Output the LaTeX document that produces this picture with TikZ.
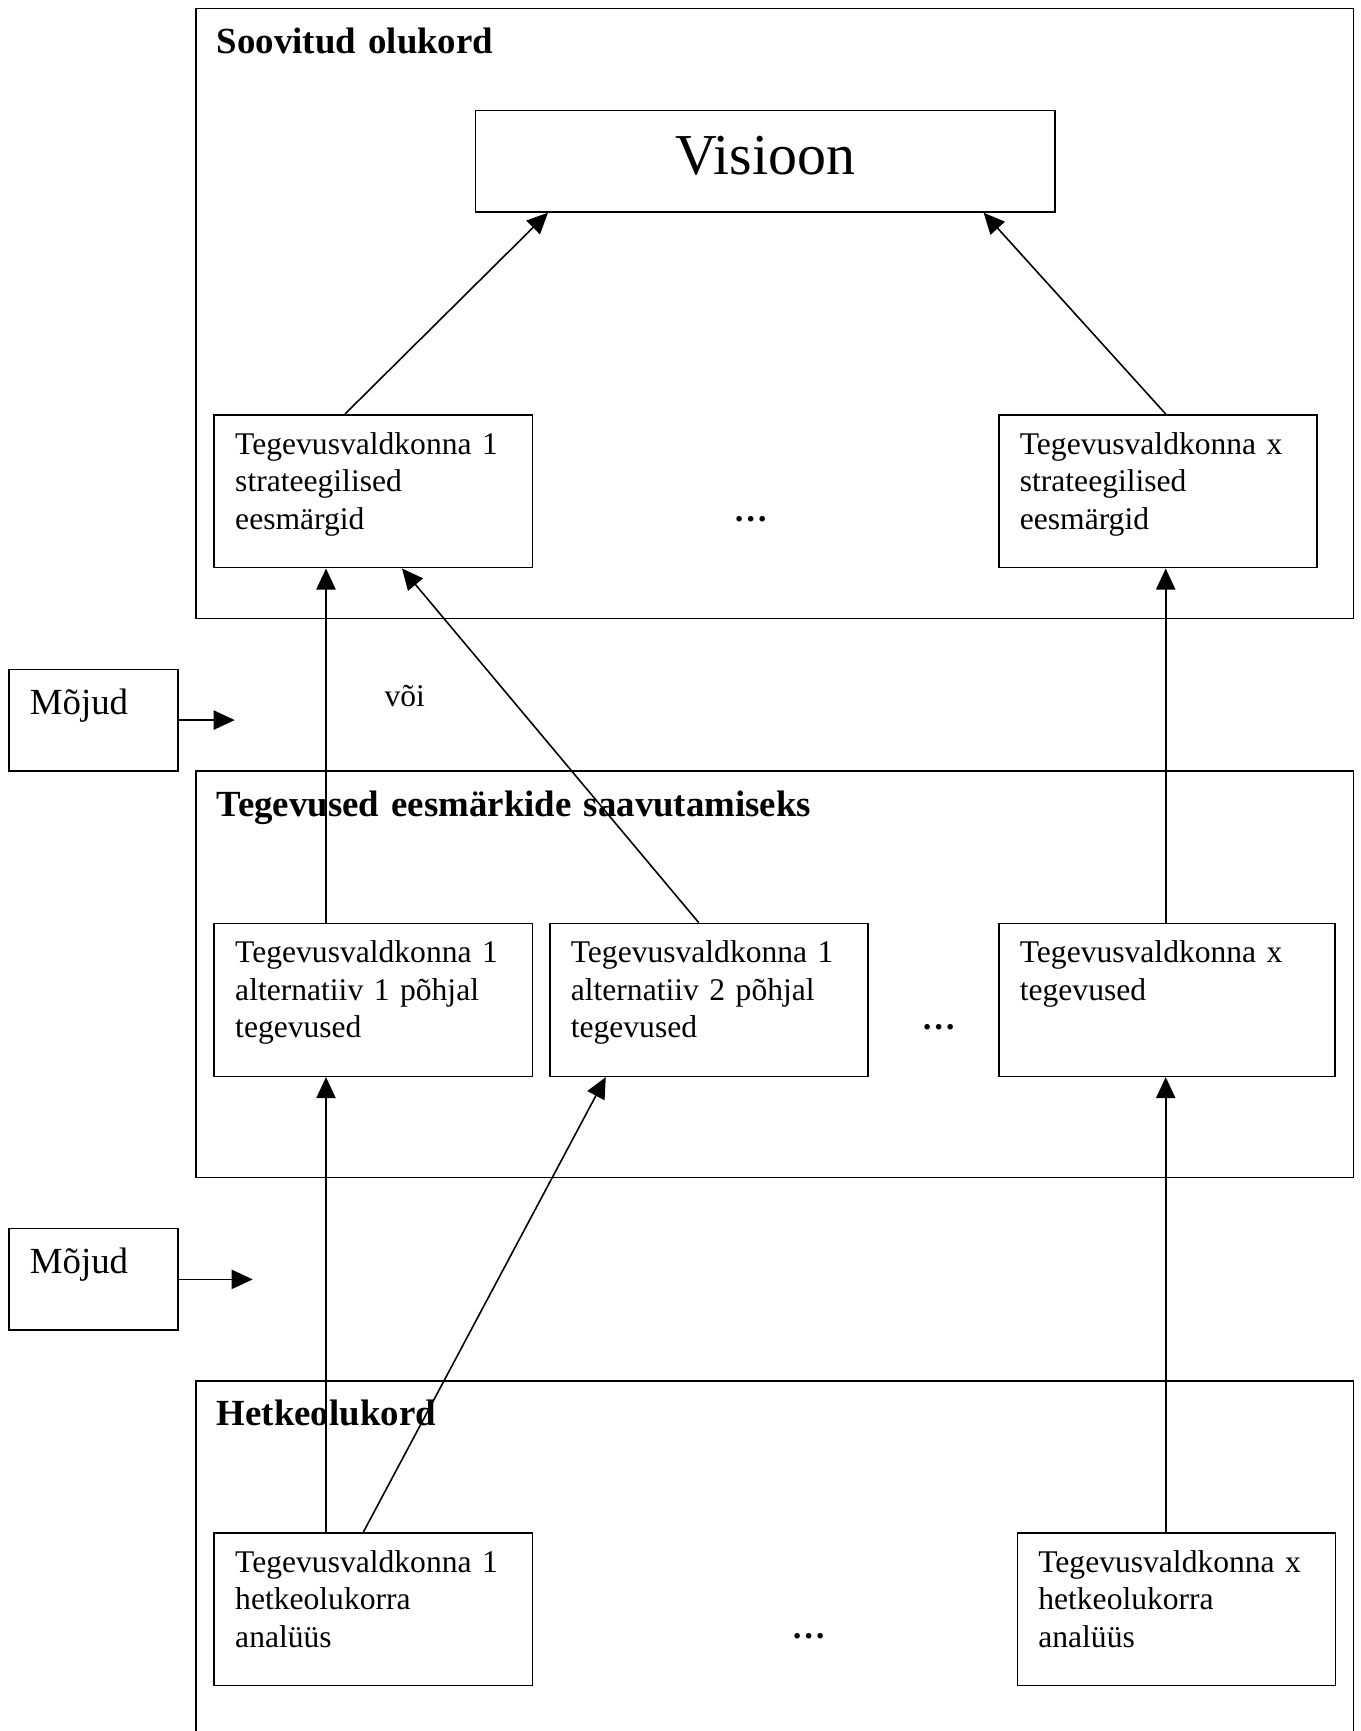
\documentclass[tikz,border=0pt]{standalone}
\usepackage{fontspec}
\setmainfont{Liberation Serif}
\usetikzlibrary{arrows.meta}
\usetikzlibrary{calc}
\tikzset{x=0.38pt, y=-0.38pt,
 area/.style={draw, line width=0.6pt, anchor=north west, align=left,
   inner xsep=8pt, inner ysep=0pt, text width=424pt, text height=17.1pt,
   font=\fontsize{14}{16}\selectfont\bfseries},
 goal/.style={draw, line width=0.6pt, anchor=north west, align=left,
   inner xsep=8pt, inner ysep=0pt, text width=104.9pt, text height=15pt,
   text depth=43.1pt, font=\fontsize{12}{14.2}\selectfont},
 effect/.style={draw, line width=0.6pt, anchor=north west, align=left,
   inner xsep=8pt, inner ysep=0pt, text width=48.2pt, text height=17.2pt,
   text depth=21.4pt, font=\fontsize{14}{16}\selectfont},
 dots/.style={anchor=base west, inner sep=0pt, font=\fontsize{13}{15}\selectfont\bfseries},
 link/.style={-{Triangle[length=8pt,width=7.3pt]}, line width=0.6pt},
 }

\begin{document}
\begin{tikzpicture}
    \useasboundingbox (0,0) rectangle (1360,1731);
    \clip (0,0) rectangle (1360,1731);
    % suured kastid
    \node[area, text depth=214.7pt] (soov) at (195,7.7) {Soovitud olukord};
    \node[area, text depth=137.3pt] (teg) at (195,770.3) {Tegevused eesmärkide saavutamiseks};
    \node[area, text depth=127.3pt] (hetk) at (195,1380) {Hetkeolukord};
    % visioon
    \node[draw, line width=0.6pt, anchor=north west, inner sep=0pt,
        minimum width=220.2pt, text height=24.4pt, text depth=14.1pt,
        font=\fontsize{22}{26}\selectfont] (vis) at (474.6,109.8) {Visioon};
    % eesmargid
    \node[goal] (s1) at (213.4,414) {Tegevusvaldkonna 1\\strateegilised\\eesmärgid};
    \node[goal] (sx) at (998,414) {Tegevusvaldkonna x\\strateegilised\\eesmärgid};
    % tegevused
    \node[goal] (a1) at (213.4,922.6) {Tegevusvaldkonna 1\\alternatiiv 1 põhjal\\tegevused};
    \node[goal] (a2) at (549,922.6) {Tegevusvaldkonna 1\\alternatiiv 2 põhjal\\tegevused};
    \node[goal, text width=111.7pt] (ax) at (998,922.6) {Tegevusvaldkonna x\\tegevused};
    % hetkeolukord
    \node[goal] (h1) at (213.4,1532) {Tegevusvaldkonna 1\\hetkeolukorra\\analüüs};
    \node[goal] (hx) at (1016.5,1532) {Tegevusvaldkonna x\\hetkeolukorra\\analüüs};
    \node[dots] (d1) at (733,521) {…};
    \node[dots] (d2) at (921,1029) {…};
    \node[dots] (d3) at (791,1638) {…};
    % mojud
    \node[effect] (m1) at (8,668.5) {Mõjud};
    \node[effect] (m2) at (8,1227.8) {Mõjud};
    \coordinate (m1end) at ($(m1.east)+(56.2,0)$);
    \coordinate (m2end) at ($(m2.east)+(74.2,0)$);
    \node[anchor=base west, inner sep=0pt, font=\fontsize{12}{14}\selectfont] (voi) at (384,706) {või};
    % nooled
    \draw[link] ($(s1.north west)+(131.6,0)$) -- ($(vis.south west)+(73.4,0)$);
    \draw[link] ($(sx.north west)+(167.7,0)$) -- ($(vis.south west)+(509,0)$);
    \draw[link] ($(a1.north west)+(112.6,0)$) -- ($(s1.south west)+(112.6,0)$);
    \draw[link] ($(a2.north west)+(149.7,0)$) -- ($(s1.south west)+(188.6,0)$);
    \draw[link] ($(ax.north west)+(167.7,0)$) -- ($(sx.south west)+(167.7,0)$);
    \draw[link] ($(h1.north west)+(112.6,0)$) -- ($(a1.south west)+(112.6,0)$);
    \draw[link] ($(h1.north west)+(150,0)$) -- ($(a2.south west)+(56.8,0)$);
    \draw[link] ($(hx.north west)+(149.2,0)$) -- ($(ax.south west)+(167.7,0)$);
    \draw[link] (m1.east) -- (m1end);
    \draw[link] (m2.east) -- (m2end);
\end{tikzpicture}
\end{document}
